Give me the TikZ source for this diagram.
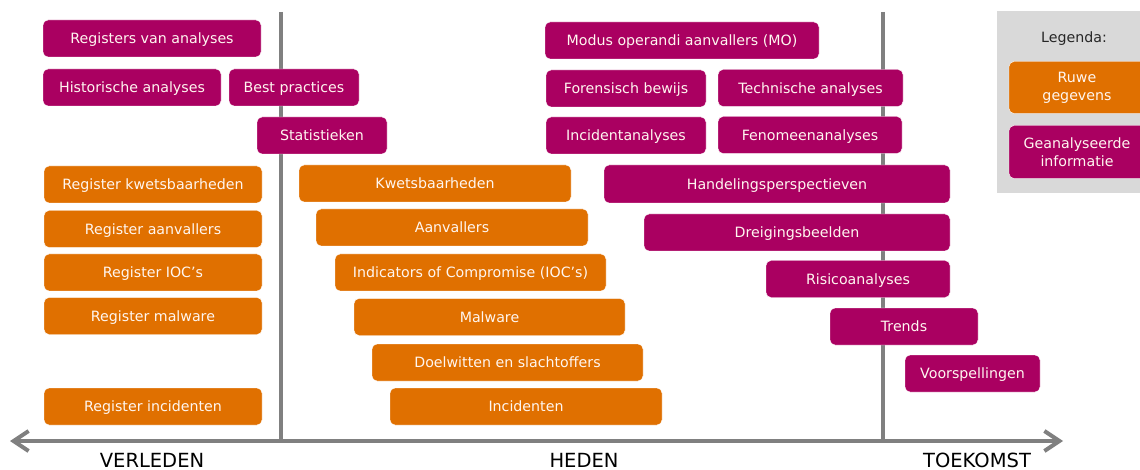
\documentclass[tikz,border=0pt]{standalone}
\usepackage{fontspec}
\setmainfont{DejaVu Sans}
\newfontfamily\axisfont{DejaVu Sans}
\usetikzlibrary{arrows.meta}
\definecolor{magbox}{RGB}{170,0,97}
\definecolor{orbox}{RGB}{224,112,0}
\definecolor{leggray}{RGB}{217,217,217}
\definecolor{axisgray}{RGB}{128,128,128}
\definecolor{boxtext}{RGB}{255,246,240}
\tikzset{
  roundbox/.style={rounded corners=5pt, draw=white, line width=0.4pt, text=boxtext,
    font=\fontsize{14.2}{18}\selectfont, inner sep=0pt, align=center},
  basebox/.style={roundbox, minimum height=37pt, text height=10.4pt, text depth=0pt},
  mbox/.style={basebox, fill=magbox},
  obox/.style={basebox, fill=orbox},
  legmbox/.style={roundbox, fill=magbox, minimum width=136pt},
  legobox/.style={roundbox, fill=orbox, minimum width=136pt},
  axisline/.style={draw=axisgray, line width=3.5pt},
  timelabel/.style={font=\axisfont\fontsize{19.5}{22}\selectfont, text=black, anchor=base, inner sep=0pt},
}
\begin{document}
\begin{tikzpicture}[x=1pt, y=-1pt]
\useasboundingbox (0,0) rectangle (1140,470);
\clip (0,0) rectangle (1140,470);
% axes
\coordinate (v1top) at (281,12);
\coordinate (v1bot) at (281,441);
\coordinate (v2top) at (883,12);
\coordinate (v2bot) at (883,441);
\coordinate (hleft) at (10,441);
\coordinate (hright) at (1063,441);
\draw[axisline] (v1top) -- (v1bot);
\draw[axisline] (v2top) -- (v2bot);
\draw[axisline, line width=4pt, {Straight Barb[length=15pt, width=20pt]}-{Straight Barb[length=15pt, width=20pt]}] (hleft) -- (hright);
\node[timelabel] (verleden) at (152,467) {VERLEDEN};
\node[timelabel] (heden) at (584,467) {HEDEN};
\node[timelabel] (toekomst) at (977,467) {TOEKOMST};

% legend
\node[fill=leggray, minimum width=160pt, minimum height=182pt, inner sep=0pt, anchor=north west] (legend) at (997,11) {};
\node[font=\fontsize{14.2}{16}\selectfont, text=black!85, text height=10.4pt, text depth=0pt, inner sep=0pt] (legtitle) at (1074,37) {Legenda:};
\node[legobox, minimum height=52pt] (legraw) at (1077,87.5) {Ruwe\\gegevens};
\node[legmbox, minimum height=53pt] (legana) at (1077,152) {Geanalyseerde\\informatie};

% magenta boxes
\node[mbox, minimum width=218pt] (m1) at (152,38.5) {Registers van analyses};
\node[mbox, minimum width=178pt] (m2) at (132,87.5) {Historische analyses};
\node[mbox, minimum width=130pt] (m3) at (294,87.5) {Best practices};
\node[mbox, minimum width=130pt] (m4) at (322,135.5) {Statistieken};
\node[mbox, minimum width=274pt] (m5) at (682,40.5) {Modus operandi aanvallers (MO)};
\node[mbox, minimum width=160pt] (m6) at (626,88.5) {Forensisch bewijs};
\node[mbox, minimum width=185pt] (m7) at (810.5,88) {Technische analyses};
\node[mbox, minimum width=160pt] (m8) at (626,135.5) {Incidentanalyses};
\node[mbox, minimum width=184pt] (m9) at (810,135) {Fenomeenanalyses};
\node[mbox, minimum width=346pt, minimum height=38pt] (m10) at (777,184) {Handelingsperspectieven};
\node[mbox, minimum width=306pt] (m11) at (797,232.5) {Dreigingsbeelden};
\node[mbox, minimum width=184pt] (m12) at (858,279) {Risicoanalyses};
\node[mbox, minimum width=148pt] (m13) at (904,326.5) {Trends};
\node[mbox, minimum width=135pt] (m14) at (972.5,373.5) {Voorspellingen};

% orange boxes
\node[obox, minimum width=218pt] (o1) at (153,184.5) {Register kwetsbaarheden};
\node[obox, minimum width=218pt] (o2) at (153,229) {Register aanvallers};
\node[obox, minimum width=218pt] (o3) at (153,272.5) {Register IOC’s};
\node[obox, minimum width=218pt] (o4) at (153,316) {Register malware};
\node[obox, minimum width=218pt] (o5) at (153,406.5) {Register incidenten};
\node[obox, minimum width=272pt] (o6) at (435,183.5) {Kwetsbaarheden};
\node[obox, minimum width=272pt] (o7) at (452,227.5) {Aanvallers};
\node[obox, minimum width=271pt] (o8) at (470.5,272.5) {Indicators of Compromise (IOC’s)};
\node[obox, minimum width=271pt] (o9) at (489.5,317) {Malware};
\node[obox, minimum width=271pt] (o10) at (507.5,362.5) {Doelwitten en slachtoffers};
\node[obox, minimum width=272pt] (o11) at (526,406.5) {Incidenten};
\end{tikzpicture}
\end{document}
